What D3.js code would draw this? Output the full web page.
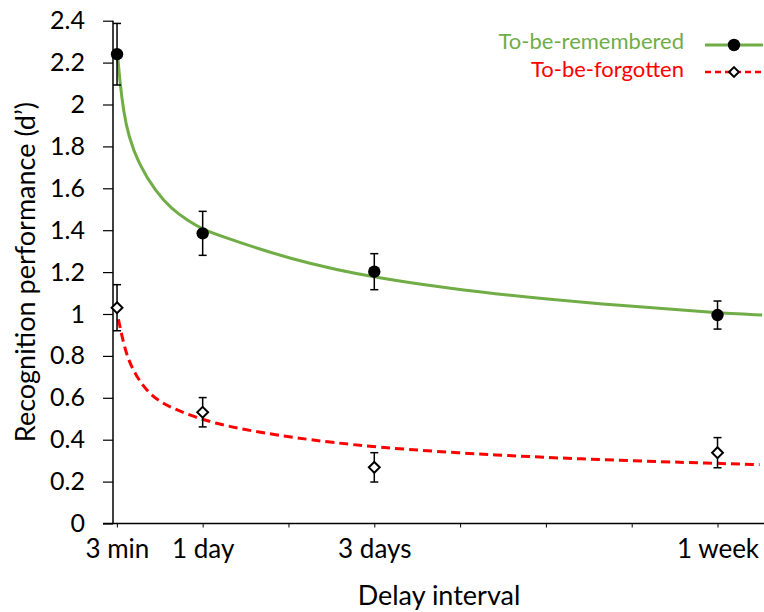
<!DOCTYPE html>
<html>
<head>
<meta charset="utf-8">
<script src="https://cdn.jsdelivr.net/npm/d3@7"></script>
<style>
    body { margin: 0; background: #fff; }
    svg { display: block; font-family: Lato, "Open Sans", sans-serif; }
</style>
</head>
<body>
<svg width="764" height="612"></svg>
<script>
const width = 764, height = 612;
const svg = d3.select("svg");

// Delay in days (3 min = 0.002 day)
const delays = [0.002, 1, 3, 7];
const delayTicks = [0, 1, 2, 3, 4, 5, 6, 7];
const delayLabels = { 0: "3 min", 1: "1 day", 3: "3 days", 7: "1 week" };

// Mean d' and error bars
const rememberedMeans = [2.24, 1.385, 1.202, 0.995];
const rememberedErr = [0.147, 0.105, 0.086, 0.067];
const forgottenMeans = [1.03, 0.531, 0.268, 0.338];
const forgottenErr = [0.11, 0.07, 0.07, 0.072];

// Fitted curves as [day, d']
const rememberedFit = [
    [0.012, 2.22], [0.038, 2.10], [0.077, 1.97], [0.135, 1.85], [0.25, 1.72],
    [0.45, 1.585], [0.64, 1.50], [0.83, 1.445], [1.0, 1.405], [1.15, 1.38],
    [2.02, 1.26], [3.0, 1.17], [4.46, 1.091], [5.63, 1.048], [6.99, 1.005], [7.52, 0.995]
];
const forgottenFit = [
    [0.018, 0.975], [0.077, 0.86], [0.135, 0.78], [0.23, 0.70], [0.366, 0.625],
    [0.52, 0.576], [0.71, 0.54], [0.91, 0.508], [1.14, 0.48],
    [1.43, 0.452], [2.02, 0.411], [3.0, 0.362], [4.46, 0.325], [5.69, 0.303],
    [6.99, 0.287], [7.49, 0.281]
];

const yTicks = d3.range(0, 2.41, 0.2);

const x = d3.scaleLinear().domain([-0.045, 7.53]).range([113, 763]);
const y = d3.scaleLinear().domain([0, 2.4]).range([523.5, 20.7]);

const green = "#70ad47", red = "#ff0000";

// y axis
const yAxis = svg.append("g")
    .attr("transform", `translate(${x(-0.045)},0)`)
    .call(d3.axisLeft(y).tickValues(yTicks).tickSize(10).tickPadding(18)
        .tickFormat(d => d3.format("~g")(+d.toFixed(1))));
yAxis.select(".domain").attr("stroke", "#000").attr("stroke-width", 1.5).attr("d", `M0,${y(2.4)}V${y(0)}`);
yAxis.selectAll(".tick line").attr("stroke", "#000").attr("stroke-width", 1.2);
yAxis.selectAll(".tick text").attr("font-size", 25).attr("fill", "#000").attr("font-family", "Lato");

// x axis
const xAxis = svg.append("g")
    .attr("transform", `translate(0,${y(0)})`)
    .call(d3.axisBottom(x).tickValues(delayTicks).tickSize(4).tickPadding(12)
        .tickFormat(d => delayLabels[d] || ""));
xAxis.select(".domain").attr("stroke", "#000").attr("stroke-width", 1.5).attr("d", `M103,0H764`);
xAxis.selectAll(".tick line").attr("stroke", "#000").attr("stroke-width", 1);
xAxis.selectAll(".tick text").attr("font-size", 26).attr("fill", "#000").attr("font-family", "Lato");

// axis titles
svg.append("text")
    .attr("transform", `translate(28,${(y(0) + y(2.4)) / 2}) rotate(-90)`)
    .attr("text-anchor", "middle").attr("dominant-baseline", "middle")
    .attr("font-size", 27).text("Recognition performance (d\u2019)");
svg.append("text")
    .attr("x", 439).attr("y", 605)
    .attr("text-anchor", "middle")
    .attr("font-size", 27).text("Delay interval");

// fitted curves
const line = d3.line().x(d => x(d[0])).y(d => y(d[1])).curve(d3.curveBasis);
svg.append("path").datum(rememberedFit)
    .attr("d", line).attr("fill", "none").attr("stroke", green).attr("stroke-width", 3);
svg.append("path").datum(forgottenFit)
    .attr("d", line).attr("fill", "none").attr("stroke", red).attr("stroke-width", 3)
    .attr("stroke-dasharray", "9,5");

// error bars
function drawErrors(means, errs) {
    const g = svg.append("g").attr("stroke", "#000").attr("stroke-width", 1.5);
    delays.forEach((t, i) => {
        const cx = x(t), top = y(means[i] + errs[i]), bot = y(means[i] - errs[i]);
        g.append("line").attr("x1", cx).attr("x2", cx).attr("y1", top).attr("y2", bot);
        g.append("line").attr("x1", cx - 4).attr("x2", cx + 4).attr("y1", top).attr("y2", top);
        g.append("line").attr("x1", cx - 4).attr("x2", cx + 4).attr("y1", bot).attr("y2", bot);
    });
}
drawErrors(rememberedMeans, rememberedErr);
drawErrors(forgottenMeans, forgottenErr);

// markers
svg.append("g").selectAll("circle")
    .data(rememberedMeans)
    .join("circle")
    .attr("cx", (d, i) => x(delays[i])).attr("cy", d => y(d))
    .attr("r", 6.2).attr("fill", "#000");

const diamond = d3.symbol().type(d3.symbolDiamond2).size(75);
svg.append("g").selectAll("path")
    .data(forgottenMeans)
    .join("path")
    .attr("transform", (d, i) => `translate(${x(delays[i])},${y(d)})`)
    .attr("d", diamond)
    .attr("fill", "#fff").attr("stroke", "#000").attr("stroke-width", 2);

// legend
const legend = svg.append("g");
legend.append("text").attr("x", 684).attr("y", 43).attr("text-anchor", "end")
    .attr("dominant-baseline", "middle").attr("font-size", 22).attr("fill", green).text("To-be-remembered");
legend.append("line").attr("x1", 705).attr("x2", 763).attr("y1", 45).attr("y2", 45)
    .attr("stroke", green).attr("stroke-width", 3);
legend.append("circle").attr("cx", 734).attr("cy", 45).attr("r", 6.2).attr("fill", "#000");

legend.append("text").attr("x", 684).attr("y", 71).attr("text-anchor", "end")
    .attr("dominant-baseline", "middle").attr("font-size", 22).attr("fill", red).text("To-be-forgotten");
legend.append("line").attr("x1", 705).attr("x2", 763).attr("y1", 72).attr("y2", 72)
    .attr("stroke", red).attr("stroke-width", 2.5).attr("stroke-dasharray", "6,4");
legend.append("path").attr("transform", "translate(734,72)").attr("d", d3.symbol().type(d3.symbolDiamond2).size(60))
    .attr("fill", "#fff").attr("stroke", "#000").attr("stroke-width", 2);
</script>
</body>
</html>
